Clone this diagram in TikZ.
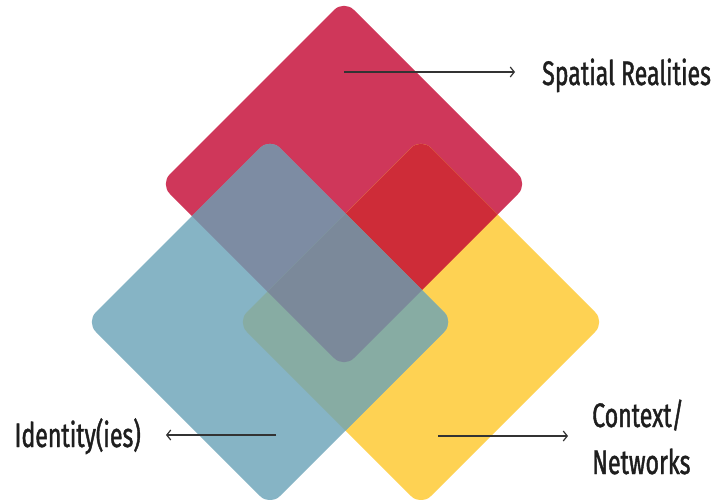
\documentclass[tikz,border=0pt]{standalone}
\usepackage{fontspec}
\setmainfont{Fira Sans}[FakeStretch=0.68, FakeBold=1.2]
\usepackage{tikz}
\usetikzlibrary{calc, arrows.meta}

\definecolor{spatialred}{HTML}{CF375A}
\definecolor{identblue}{HTML}{86B4C5}
\definecolor{contextyellow}{HTML}{FED253}
\definecolor{redblue}{HTML}{7D8CA3}
\definecolor{redyellow}{HTML}{CE2C38}
\definecolor{blueyellow}{HTML}{87ACA3}
\definecolor{allthree}{HTML}{7B899A}
\definecolor{inkgray}{HTML}{333333}
\definecolor{textink}{HTML}{1E1E1E}

% square standing on one corner, centred on #1
\newcommand{\tiltsquare}[1]{($(#1)+(0,-184)$) -- ($(#1)+(184,0)$) -- ($(#1)+(0,184)$) -- ($(#1)+(-184,0)$) -- cycle}

\begin{document}
\begin{tikzpicture}[
    x=1pt, y=-1pt,
    >=Stealth,
    font=\fontsize{34pt}{47pt}\selectfont
]

    \tikzset{
        pointer/.style={
            draw=inkgray,
            line width=1.6pt,
            -{Straight Barb[length=4pt, width=10pt, line width=1.2pt]}
        },
        tag/.style={text=textink, inner sep=0pt},
        soft/.style={rounded corners=14pt}
    }

    \useasboundingbox (0,0) rectangle (727,499);

    % centres of the three squares
    \coordinate (R) at (344,184);
    \coordinate (B) at (270,322);
    \coordinate (Y) at (421,322);

    % plain squares
    \fill[spatialred, soft] \tiltsquare{R};
    \fill[contextyellow, soft] \tiltsquare{Y};
    \fill[identblue, soft] \tiltsquare{B};

    % overlaps
    \begin{scope}
        \clip[soft] \tiltsquare{R};
        \fill[redyellow, soft] \tiltsquare{Y};
        \fill[redblue, soft] \tiltsquare{B};
    \end{scope}
    \begin{scope}
        \clip[soft] \tiltsquare{Y};
        \fill[blueyellow, soft] \tiltsquare{B};
    \end{scope}
    \begin{scope}
        \clip[soft] \tiltsquare{R};
        \clip[soft] \tiltsquare{Y};
        \fill[allthree, soft] \tiltsquare{B};
    \end{scope}

    % labels
    \node[tag, anchor=base west] (spatial) at (542,85) {Spatial Realities};
    \node[tag, anchor=base east] (ident) at (141,447) {Identity(ies)};
    \node[tag, anchor=west, align=left] (context) at (592,437) {Context/\\Networks};

    % arrows out of the squares
    \coordinate (Rtail) at (344,72);
    \coordinate (Btail) at (276,435);
    \coordinate (Ytail) at (438,436);

    \draw[pointer, shorten >=27pt] (Rtail) -- (Rtail -| spatial.west);
    \draw[pointer, shorten >=25pt] (Btail) -- (Btail -| ident.east);
    \draw[pointer, shorten >=24pt] (Ytail) -- (Ytail -| context.west);

\end{tikzpicture}
\end{document}
